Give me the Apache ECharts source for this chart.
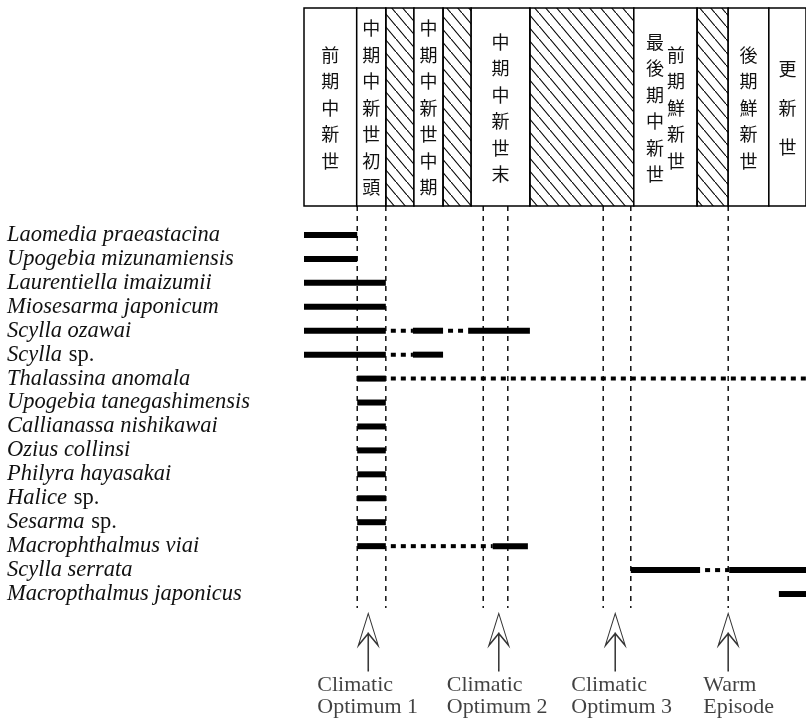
<!DOCTYPE html>
<html>
<head>
<meta charset="utf-8">
<script src="https://cdn.jsdelivr.net/npm/echarts@6/dist/echarts.min.js"></script>
<style>
  html, body { margin: 0; padding: 0; background: #fff; }
  #chart { width: 806px; height: 724px; }
</style>
</head>
<body>
<div id="chart"></div>
<script>
// relative time scale: 0 = left edge of the table, 100 = right edge
let periodStarts = [0, 10.5, 16.3, 21.9, 27.7, 33.3, 45.0, 65.7, 78.3, 84.5, 92.6];
let periodEnds = [10.5, 16.3, 21.9, 27.7, 33.3, 45.0, 65.7, 78.3, 84.5, 92.6, 100];
// "" = hiatus (hatched), "|" splits two text columns in one cell
let periodNames = [
  "前期中新世", "中期中新世初頭", "", "中期中新世中期", "", "中期中新世末",
  "", "最後期中新世|前期鮮新世", "", "後期鮮新世", "更新世",
];

let species = [
  "Laomedia praeastacina",
  "Upogebia mizunamiensis",
  "Laurentiella imaizumii",
  "Miosesarma japonicum",
  "Scylla ozawai",
  "Scylla sp.",
  "Thalassina anomala",
  "Upogebia tanegashimensis",
  "Callianassa nishikawai",
  "Ozius collinsi",
  "Philyra hayasakai",
  "Halice sp.",
  "Sesarma sp.",
  "Macrophthalmus viai",
  "Scylla serrata",
  "Macropthalmus japonicus",
];

// [species row, from, to]
let knownRanges = [
  [0, 0, 10.6], [1, 0, 10.6], [2, 0, 16.3], [3, 0, 16.3],
  [4, 0, 16.3], [4, 21.7, 27.7], [4, 32.7, 45.0],
  [5, 0, 16.3], [5, 21.7, 27.7],
  [6, 10.6, 16.3], [7, 10.6, 16.3], [8, 10.6, 16.3], [9, 10.6, 16.3],
  [10, 10.6, 16.3], [11, 10.6, 16.3], [12, 10.6, 16.3],
  [13, 10.6, 16.3], [13, 37.6, 44.6],
  [14, 65.1, 78.9], [14, 84.7, 100],
  [15, 94.6, 100],
];
let inferredRanges = [
  [4, 16.3, 21.7], [4, 27.7, 32.7], [5, 16.3, 21.7],
  [6, 16.3, 100], [13, 16.3, 37.6], [14, 78.9, 84.7],
];

let guideLines = [10.6, 16.3, 35.7, 40.6, 59.6, 65.1, 84.5];

let eventNames = ["Climatic\nOptimum 1", "Climatic\nOptimum 2", "Climatic\nOptimum 3", "Warm\nEpisode"];
let eventPositions = [12.8, 38.8, 62.0, 84.5];
let eventLabelShift = [-51, -52, -44, -25];

let hatch = (() => {
  let c = document.createElement("canvas");
  c.width = 11;
  c.height = 13;
  let g = c.getContext("2d");
  g.strokeStyle = "#000";
  g.lineWidth = 1.1;
  g.beginPath();
  g.moveTo(-1, -13 / 11);
  g.lineTo(12, 13 + 13 / 11);
  g.stroke();
  return c;
})();

let serif = "Liberation Serif";
let chart = echarts.init(document.getElementById("chart"));

let gridBase = { left: 304, right: 0, outerBoundsMode: "none" };
let hiddenX = (i) => ({ type: "value", gridIndex: i, min: 0, max: 100, show: false });
let hiddenY = (i) => ({ type: "value", gridIndex: i, min: 0, max: 1, show: false });

let option = {
  backgroundColor: "#fff",
  animation: false,
  grid: [
    { ...gridBase, top: 8, height: 198 },
    { ...gridBase, top: 206, height: 402 },
    { ...gridBase, top: 223, height: 383 },
    { ...gridBase, top: 612, height: 60 },
  ],
  xAxis: [hiddenX(0), hiddenX(1), hiddenX(2), hiddenX(3)],
  yAxis: [
    hiddenY(0),
    hiddenY(1),
    {
      type: "category",
      gridIndex: 2,
      inverse: true,
      data: species,
      axisLine: { show: false },
      axisTick: { show: false },
      splitLine: { show: false },
      axisLabel: {
        interval: 0,
        align: "left",
        margin: 297,
        formatter: (name) =>
          name.endsWith(" sp.")
            ? "{i|" + name.slice(0, -4) + "}  {n|sp.}"
            : "{i|" + name + "}",
        rich: {
          i: { fontFamily: serif, fontStyle: "italic", fontSize: 22.5, color: "#111" },
          n: { fontFamily: serif, fontSize: 22.5, color: "#111" },
        },
      },
    },
    hiddenY(3),
  ],
  series: [
    {
      type: "custom",
      xAxisIndex: 0,
      yAxisIndex: 0,
      data: periodStarts.map((s, i) => [s, periodEnds[i], i]),
      encode: { x: [0, 1] },
      renderItem: (params, api) => {
        let p0 = api.coord([api.value(0), 1]);
        let p1 = api.coord([api.value(1), 0]);
        let name = periodNames[api.value(2)];
        let w = p1[0] - p0[0];
        let h = p1[1] - p0[1];
        let children = [
          {
            type: "rect",
            shape: { x: p0[0], y: p0[1], width: w, height: h },
            style: {
              fill: name ? "#fff" : { image: hatch, repeat: "repeat" },
              stroke: "#000",
              lineWidth: 1.5,
            },
          },
        ];
        if (name) {
          let parts = name.split("|");
          parts.forEach((t, k) => {
            children.push({
              type: "text",
              x: p0[0] + (w * (k + 1)) / (parts.length + 1),
              y: p0[1] + h / 2 + 1,
              style: {
                text: t.split("").join("\n"),
                font: '18px "Noto Sans CJK JP"',
                fill: "#111",
                align: "center",
                verticalAlign: "middle",
                lineHeight: t.length <= 3 ? 39 : 26.5,
              },
            });
          });
        }
        return { type: "group", children: children };
      },
    },
    {
      type: "custom",
      xAxisIndex: 1,
      yAxisIndex: 1,
      data: guideLines.map((x) => [x]),
      encode: { x: 0 },
      renderItem: (params, api) => {
        let a = api.coord([api.value(0), 1]);
        let b = api.coord([api.value(0), 0]);
        return {
          type: "line",
          shape: { x1: a[0], y1: a[1], x2: b[0], y2: b[1] },
          style: { stroke: "#000", lineWidth: 1.4, lineDash: [5, 5] },
        };
      },
      z: 1,
    },
    {
      type: "custom",
      xAxisIndex: 2,
      yAxisIndex: 2,
      data: knownRanges,
      encode: { x: [1, 2], y: 0 },
      renderItem: (params, api) => {
        let a = api.coord([api.value(1), api.value(0)]);
        let b = api.coord([api.value(2), api.value(0)]);
        return {
          type: "rect",
          shape: { x: a[0], y: a[1] - 3, width: b[0] - a[0], height: 6 },
          style: { fill: "#000" },
        };
      },
      z: 3,
    },
    {
      type: "custom",
      xAxisIndex: 2,
      yAxisIndex: 2,
      data: inferredRanges,
      encode: { x: [1, 2], y: 0 },
      renderItem: (params, api) => {
        let a = api.coord([api.value(1), api.value(0)]);
        let b = api.coord([api.value(2), api.value(0)]);
        return {
          type: "line",
          shape: { x1: a[0], y1: a[1], x2: b[0], y2: b[1] },
          style: { stroke: "#000", lineWidth: 4, lineDash: [5, 5], lineDashOffset: 5 },
        };
      },
      z: 3,
    },
    {
      type: "scatter",
      xAxisIndex: 3,
      yAxisIndex: 3,
      symbol: "path://M10 0 L20 32 L10 20 L0 32 Z M9.6 20 L10.4 20 L10.4 57 L9.6 57 Z",
      symbolSize: [20, 57],
      itemStyle: { color: "#fff", borderColor: "#000", borderWidth: 1.3 },
      data: eventPositions.map((x, i) => ({
        value: [x, 0.5],
        label: { offset: [eventLabelShift[i], 0] },
      })),
      label: {
        show: true,
        position: "bottom",
        distance: 3,
        align: "left",
        formatter: (p) => eventNames[p.dataIndex],
        fontFamily: serif,
        fontSize: 22,
        lineHeight: 22,
        color: "#111",
      },
    },
  ],
};

chart.setOption(option);
</script>
</body>
</html>
